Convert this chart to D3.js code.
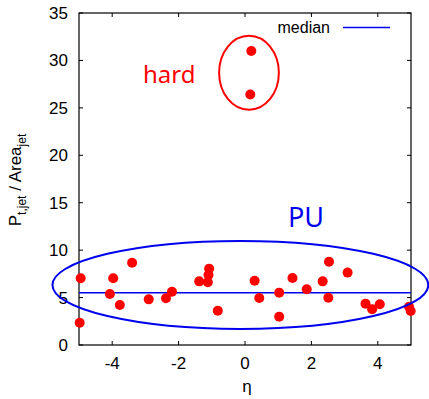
<!DOCTYPE html>
<html>
<head>
<meta charset="utf-8">
<script src="https://cdn.jsdelivr.net/npm/d3@7"></script>
<style>
  body { margin: 0; background: #fff; }
  text { font-family: "Liberation Sans", Arial, sans-serif; }
</style>
</head>
<body>
<div id="vizDiv"></div>
<script>
var width = 429
var height = 399

// soft (pile-up) jets: eta, pt/area
var puEta = [-4.95, -4.98, -4.07, -3.97, -3.77, -3.40, -2.90, -2.38, -2.20, -1.38, -1.12, -1.10, -1.08, -0.82,
             0.29, 0.43, 1.03, 1.03, 1.43, 1.86, 2.34, 2.53, 2.51, 3.09, 3.63, 3.83, 4.06, 4.94, 4.99]
var puVal = [7.03, 2.35, 5.38, 7.03, 4.22, 8.68, 4.81, 4.92, 5.62, 6.71, 6.61, 7.38, 8.05, 3.62,
             6.78, 4.95, 5.52, 2.99, 7.06, 5.87, 6.71, 8.78, 4.99, 7.63, 4.36, 3.76, 4.29, 4.04, 3.58]
// hard jets
var hardEta = [0.19, 0.16]
var hardVal = [31.0, 26.4]

var medianVal = 5.52

var xTicks = [-4, -2, 0, 2, 4]
var yTicks = [0, 5, 10, 15, 20, 25, 30, 35]

// ellipses drawn in data units: [cx, cy, rx, ry]
var hardEllipse = [0.12, 28.7, 0.9, 3.9]
var puEllipse = [-0.14, 6.33, 5.66, 4.64]

var plotLeft = 79, plotRight = 411, plotTop = 13, plotBottom = 345

var x = d3.scaleLinear().domain([-5, 5]).range([plotLeft, plotRight])
var y = d3.scaleLinear().domain([0, 35]).range([plotBottom, plotTop])

var svg = d3.select("#vizDiv")
  .append("svg")
  .attr("width", width)
  .attr("height", height)

// ticks (inside, mirrored)
var tickLen = 4
xTicks.forEach(function (t) {
  svg.append("line").attr("x1", x(t)).attr("x2", x(t)).attr("y1", plotBottom).attr("y2", plotBottom - tickLen).attr("stroke", "black")
  svg.append("line").attr("x1", x(t)).attr("x2", x(t)).attr("y1", plotTop).attr("y2", plotTop + tickLen).attr("stroke", "black")
  svg.append("text")
    .attr("x", x(t))
    .attr("y", 369)
    .attr("text-anchor", "middle")
    .style("font-size", "17px")
    .text(t)
})
yTicks.forEach(function (t) {
  svg.append("line").attr("x1", plotLeft).attr("x2", plotLeft + tickLen).attr("y1", y(t)).attr("y2", y(t)).attr("stroke", "black")
  svg.append("line").attr("x1", plotRight).attr("x2", plotRight - tickLen).attr("y1", y(t)).attr("y2", y(t)).attr("stroke", "black")
  svg.append("text")
    .attr("x", 68)
    .attr("y", y(t) + 6)
    .attr("text-anchor", "end")
    .style("font-size", "17px")
    .text(t)
})

// frame
svg.append("rect")
  .attr("x", plotLeft).attr("y", plotTop)
  .attr("width", plotRight - plotLeft).attr("height", plotBottom - plotTop)
  .attr("fill", "none")
  .attr("stroke", "black")
  .attr("stroke-width", 1.2)

// median line
svg.append("line")
  .attr("x1", x(-5)).attr("x2", x(5))
  .attr("y1", y(medianVal)).attr("y2", y(medianVal))
  .attr("stroke", "#0000ee")
  .attr("stroke-width", 1.5)

// legend
svg.append("text")
  .attr("x", 330).attr("y", 33)
  .attr("text-anchor", "end")
  .style("font-size", "16px")
  .text("median")
svg.append("line")
  .attr("x1", 343).attr("x2", 390).attr("y1", 27.5).attr("y2", 27.5)
  .attr("stroke", "#0000ee").attr("stroke-width", 1.5)

// points
var pts = []
for (var i = 0; i < puEta.length; i++) pts.push([puEta[i], puVal[i]])
for (var j = 0; j < hardEta.length; j++) pts.push([hardEta[j], hardVal[j]])

svg.selectAll("circle.pt")
  .data(pts)
  .enter()
  .append("circle")
  .attr("class", "pt")
  .attr("cx", function (d) { return x(d[0]) })
  .attr("cy", function (d) { return y(d[1]) })
  .attr("r", 5)
  .style("fill", "#ff0000")

function drawEllipse(e, color) {
  svg.append("ellipse")
    .attr("cx", x(e[0]))
    .attr("cy", y(e[1]))
    .attr("rx", x(e[0] + e[2]) - x(e[0]))
    .attr("ry", y(e[1]) - y(e[1] + e[3]))
    .attr("fill", "none")
    .attr("stroke", color)
    .attr("stroke-width", 2)
}
drawEllipse(hardEllipse, "#ff0000")
drawEllipse(puEllipse, "#0000ee")

svg.append("text")
  .attr("x", 143).attr("y", 83)
  .style("font-family", "'Noto Sans', sans-serif")
  .style("font-size", "24px")
  .attr("fill", "#ff0000")
  .text("hard")

svg.append("text")
  .attr("x", 288).attr("y", 227)
  .style("font-family", "'Noto Sans', sans-serif")
  .style("font-size", "27px")
  .attr("fill", "#0000ee")
  .text("PU")

// axis labels
svg.append("text")
  .attr("x", 247).attr("y", 392)
  .attr("text-anchor", "middle")
  .style("font-size", "17px")
  .text("η")

var yl = svg.append("text")
  .attr("transform", "translate(21,180) rotate(-90)")
  .attr("text-anchor", "middle")
  .style("font-size", "17px")
yl.append("tspan").text("P")
yl.append("tspan").attr("dy", 5).style("font-size", "12px").text("t,jet")
yl.append("tspan").attr("dy", -5).text(" / Area")
yl.append("tspan").attr("dy", 5).style("font-size", "12px").text("jet")
</script>
</body>
</html>
